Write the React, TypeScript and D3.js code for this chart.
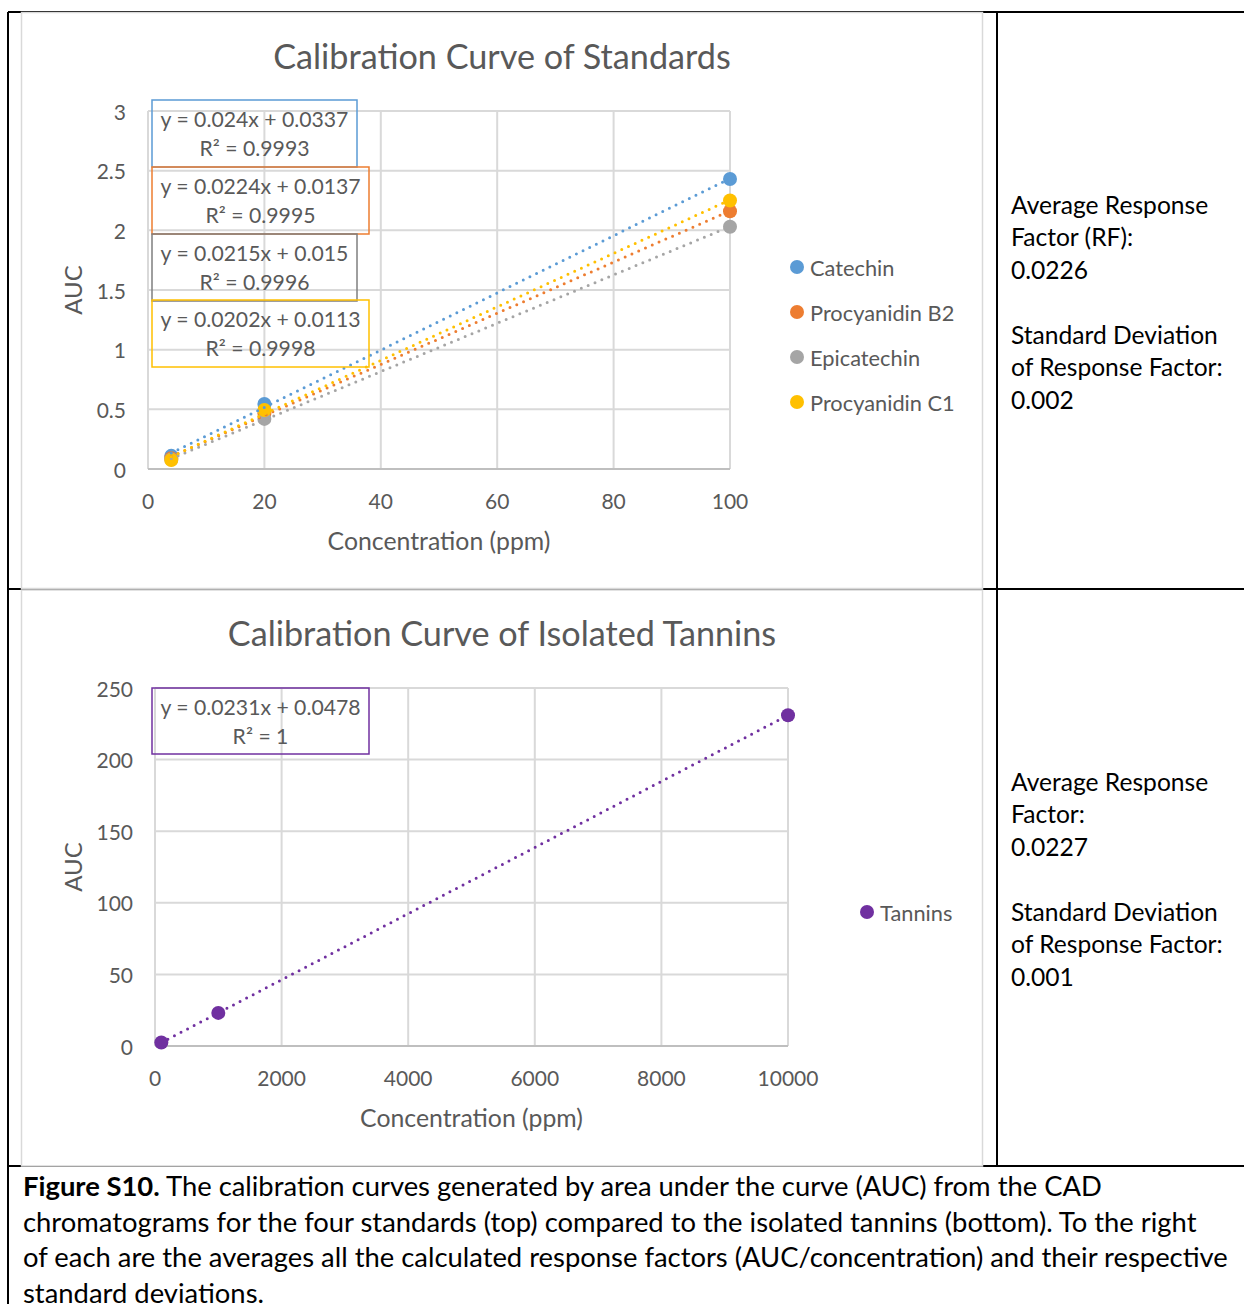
import React from "react";
import * as d3 from "d3";

const concStd = [4, 20, 100];
const catechin = [0.11, 0.545, 2.43];
const procyanidinB2 = [0.09, 0.465, 2.16];
const epicatechin = [0.08, 0.42, 2.03];
const procyanidinC1 = [0.075, 0.495, 2.25];
const stdNames = ["Catechin", "Procyanidin B2", "Epicatechin", "Procyanidin C1"];
const stdColors = ["#5B9BD5", "#ED7D31", "#A5A5A5", "#FFC000"];
const stdEquations = [
  ["y = 0.024x + 0.0337", "R² = 0.9993"],
  ["y = 0.0224x + 0.0137", "R² = 0.9995"],
  ["y = 0.0215x + 0.015", "R² = 0.9996"],
  ["y = 0.0202x + 0.0113", "R² = 0.9998"],
];
const stdBoxColors = ["#5B9BD5", "#ED7D31", "#7F7F7F", "#FFC000"];
const stdXTicks = [0, 20, 40, 60, 80, 100];
const stdYTicks = [0, 0.5, 1, 1.5, 2, 2.5, 3];

const concTan = [100, 1000, 10000];
const tannins = [2.4, 23.1, 231];
const tanEquation = ["y = 0.0231x + 0.0478", "R² = 1"];
const tanXTicks = [0, 2000, 4000, 6000, 8000, 10000];
const tanYTicks = [0, 50, 100, 150, 200, 250];

const rightTop = ["Average Response", "Factor (RF):", "0.0226", "", "Standard Deviation", "of Response Factor:", "0.002"];
const rightBottom = ["Average Response", "Factor:", "0.0227", "", "Standard Deviation", "of Response Factor:", "0.001"];
const captionLines = [
  ["Figure S10.", " The calibration curves generated by area under the curve (AUC) from the CAD"],
  ["", "chromatograms for the four standards (top) compared to the isolated tannins (bottom). To the right"],
  ["", "of each are the averages all the calculated response factors (AUC/concentration) and their respective"],
  ["", "standard deviations."],
];

const FONT = "Lato, 'Open Sans', sans-serif";
const GRAY = "#595959";
const GRID = "#D9D9D9";

function fit(xs: number[], ys: number[]) {
  const mx = d3.mean(xs)!;
  const my = d3.mean(ys)!;
  let sxy = 0, sxx = 0;
  xs.forEach((x, i) => { sxy += (x - mx) * (ys[i] - my); sxx += (x - mx) * (x - mx); });
  const m = sxy / sxx;
  return { m, b: my - m * mx };
}

function Chart(props: any) {
  const { top, title, x, y, xTicks, yTicks, series, boxes, legend, xFmt, yFmt } = props;
  const [x0, x1] = x.range();
  const [y0, y1] = y.range();
  return (
    <g fontFamily={FONT} fill={GRAY}>
      <rect x={21.5} y={top} width={961} height={576} fill="white" stroke={GRID} strokeWidth={1.5} />
      <text x={502} y={top + 42.5} fontSize={34.2} textAnchor="middle" dominantBaseline="central">{title}</text>
      {yTicks.map((t: number) => (
        <line key={"gy" + t} x1={x0} x2={x1} y1={y(t)} y2={y(t)} stroke={GRID} strokeWidth={2} />
      ))}
      {xTicks.map((t: number) => (
        <line key={"gx" + t} x1={x(t)} x2={x(t)} y1={y0} y2={y1} stroke={GRID} strokeWidth={2} />
      ))}
      <line x1={x0} x2={x1} y1={y0} y2={y0} stroke="#BFBFBF" strokeWidth={2} />
      {yTicks.map((t: number) => (
        <text key={"ty" + t} x={x0 - 22} y={y(t)} fontSize={21} textAnchor="end" dominantBaseline="central">{yFmt(t)}</text>
      ))}
      {xTicks.map((t: number) => (
        <text key={"tx" + t} x={x(t)} y={y0 + 31} fontSize={21} textAnchor="middle" dominantBaseline="central">{xFmt(t)}</text>
      ))}
      <text transform={`translate(72,${(y0 + y1) / 2}) rotate(-90)`} fontSize={24} textAnchor="middle" dominantBaseline="central">AUC</text>
      <text x={(x0 + x1) / 2} y={y0 + 71} fontSize={24.8} textAnchor="middle" dominantBaseline="central">Concentration (ppm)</text>
      {series.map((s: any, i: number) => (
        <g key={"m" + i}>
          {s.xs.map((xv: number, j: number) => (
            <circle key={j} cx={x(xv)} cy={y(s.ys[j])} r={7} fill={s.color} />
          ))}
        </g>
      ))}
      {series.map((s: any, i: number) => {
        const { m, b } = fit(s.xs, s.ys);
        const ext = d3.extent(s.xs) as [number, number];
        const line = d3.line<number>().x((v) => x(v)).y((v) => y(m * v + b));
        return (
          <path key={"t" + i} d={line(ext) || ""} fill="none" stroke={s.color} strokeWidth={3}
            strokeLinecap="round" strokeDasharray="0 7.4" />
        );
      })}
      {boxes.map((bx: any, i: number) => (
        <g key={"b" + i}>
          <rect x={bx.x} y={bx.y} width={bx.w} height={bx.h} fill="none" stroke={bx.color} strokeWidth={1.5} />
          <text x={bx.x + bx.w / 2} y={bx.y + 19} fontSize={21.2} textAnchor="middle" dominantBaseline="central">{bx.lines[0]}</text>
          <text x={bx.x + bx.w / 2} y={bx.y + 48} fontSize={21.2} textAnchor="middle" dominantBaseline="central">{bx.lines[1]}</text>
        </g>
      ))}
      {legend.map((l: any, i: number) => (
        <g key={"l" + i}>
          <circle cx={l.x} cy={l.y} r={7} fill={l.color} />
          <text x={l.x + 13} y={l.y} fontSize={21.8} dominantBaseline="central">{l.name}</text>
        </g>
      ))}
    </g>
  );
}

export default function App() {
  const xs = d3.scaleLinear().domain([0, 100]).range([148, 730]);
  const ys = d3.scaleLinear().domain([0, 3]).range([469, 111]);
  const stdValues = [catechin, procyanidinB2, epicatechin, procyanidinC1];
  const stdSeries = stdValues.map((v, i) => ({ xs: concStd, ys: v, color: stdColors[i] }));
  const boxGeo = [
    { x: 152, y: 100, w: 205 },
    { x: 152, y: 167, w: 217 },
    { x: 152, y: 234, w: 205 },
    { x: 152, y: 300, w: 217 },
  ];
  const stdBoxes = boxGeo.map((g, i) => ({ ...g, h: 67, color: stdBoxColors[i], lines: stdEquations[i] }));
  const stdLegend = stdNames.map((n, i) => ({ name: n, color: stdColors[i], x: 797, y: 267 + 45 * i }));

  const xt = d3.scaleLinear().domain([0, 10000]).range([155, 788]);
  const yt = d3.scaleLinear().domain([0, 250]).range([1046, 688]);
  const tanSeries = [{ xs: concTan, ys: tannins, color: "#7030A0" }];
  const tanBoxes = [{ x: 152, y: 688, w: 217, h: 66, color: "#7030A0", lines: tanEquation }];
  const tanLegend = [{ name: "Tannins", color: "#7030A0", x: 867, y: 912 }];

  return (
    <svg width={1244} height={1304} style={{ position: "absolute", left: 0, top: 0, display: "block" }}>
      <rect width={1244} height={1304} fill="white" />
      <g stroke="black" strokeWidth={2}>
        <line x1={8} x2={1244} y1={12} y2={12} />
        <line x1={8} x2={8} y1={12} y2={1304} />
        <line x1={997} x2={997} y1={12} y2={1166} />
        <line x1={8} x2={1244} y1={589} y2={589} />
        <line x1={8} x2={1244} y1={1166} y2={1166} />
      </g>
      <Chart top={12.5} title="Calibration Curve of Standards" x={xs} y={ys} xTicks={stdXTicks} yTicks={stdYTicks}
        series={stdSeries} boxes={stdBoxes} legend={stdLegend} xFmt={(t: number) => String(t)} yFmt={(t: number) => String(t)} />
      <Chart top={590} title="Calibration Curve of Isolated Tannins" x={xt} y={yt} xTicks={tanXTicks} yTicks={tanYTicks}
        series={tanSeries} boxes={tanBoxes} legend={tanLegend} xFmt={(t: number) => String(t)} yFmt={(t: number) => String(t)} />
      <g fontFamily={FONT} fontSize={24.6} fill="black">
        {rightTop.map((t, i) => (
          <text key={"rt" + i} x={1011} y={204 + 32.5 * i} dominantBaseline="central">{t}</text>
        ))}
        {rightBottom.map((t, i) => (
          <text key={"rb" + i} x={1011} y={781 + 32.5 * i} dominantBaseline="central">{t}</text>
        ))}
      </g>
      <g fontFamily={FONT} fontSize={27.4} fill="black">
        {captionLines.map((l, i) => (
          <text key={"c" + i} x={23} y={1185 + 35.6 * i} dominantBaseline="central">
            {l[0] ? <tspan fontWeight="bold">{l[0]}</tspan> : null}
            <tspan>{l[1]}</tspan>
          </text>
        ))}
      </g>
    </svg>
  );
}
